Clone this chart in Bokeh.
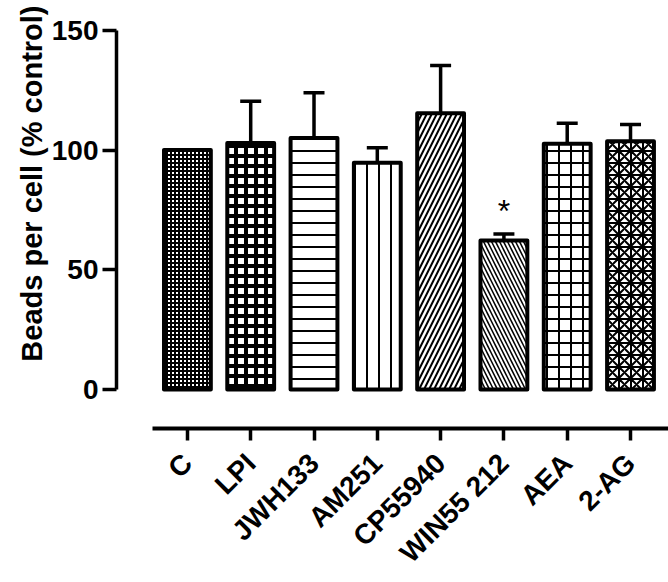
import math
from bokeh.plotting import figure
from bokeh.models import (ColumnDataSource, Range1d, FixedTicker, Whisker, TeeHead, Title)
from bokeh.core.properties import value
from bokeh.embed import file_html
from bokeh.resources import INLINE

# ---- data ----
categories = ["C", "LPI", "JWH133", "AM251", "CP55940", "WIN55 212", "AEA", "2-AG"]
means = [100, 103, 105, 94.7, 115.4, 62.2, 102.6, 103.7]
sems = [0, 17.4, 19, 6.3, 19.9, 2.8, 8.6, 7.0]
significance = ["", "", "", "", "", "*", "", ""]
y_ticks = [0, 50, 100, 150]
y_title = "Beads per cell (% control)"

# ---- styles ----
patterns = ["cross", "cross", "horizontal_line", "vertical_line",
            "right_diagonal_line", "left_diagonal_line", "cross", "criss_cross"]
scales = [4, 10, 12, 12, 10, 8, 12, 12]
weights = [2, 4, 2, 2, 2, 1.5, 2, 2]

FONT = "Liberation Sans"

xs = list(range(len(categories)))
src = ColumnDataSource(dict(x=xs, top=means, pat=patterns, sc=scales, wt=weights))

err_idx = [i for i, e in enumerate(sems) if e > 0]
err_src = ColumnDataSource(dict(
    x=[xs[i] for i in err_idx],
    mean=[means[i] for i in err_idx],
    upper=[means[i] + sems[i] for i in err_idx],
))

sig_idx = [i for i, s in enumerate(significance) if s]
sig_src = ColumnDataSource(dict(
    x=[xs[i] for i in sig_idx],
    y=[means[i] + sems[i] + 9.5 for i in sig_idx],
    t=[significance[i] for i in sig_idx],
))

p = figure(width=668, height=582,
           x_range=Range1d(-1.12, 7.6), y_range=Range1d(-16.3, 153.3),
           output_backend="svg", toolbar_location=None,
           min_border_left=116, min_border_right=0, min_border_top=22,
           min_border_bottom=154)

p.vbar(x="x", top="top", bottom=0, width=0.74, source=src,
       fill_color="white", line_color="black", line_width=4, line_join="round",
       hatch_pattern="pat", hatch_scale="sc", hatch_weight="wt",
       hatch_color="black")

p.add_layout(Whisker(base="x", lower="mean", upper="upper", source=err_src,
                     line_width=3.5, line_color="black", lower_head=None,
                     upper_head=TeeHead(size=21, line_width=3.5, line_color="black"),
                     level="underlay"))

p.text(x="x", y="y", text="t", source=sig_src, text_font=value(FONT),
       text_font_size="32px", text_align="center", text_baseline="middle",
       text_color="black")

p.add_layout(Title(text=y_title, align="right", offset=-17, standoff=2,
                   text_font=FONT, text_font_style="bold", text_font_size="29px",
                   text_color="black"), "left")

p.xgrid.visible = False
p.ygrid.visible = False
p.outline_line_color = None
p.background_fill_color = "white"
p.border_fill_color = "white"

# y axis
ya = p.yaxis[0]
ya.ticker = FixedTicker(ticks=y_ticks)
ya.bounds = (0, 150)
ya.axis_line_width = 3.5
ya.axis_line_color = "black"
ya.major_tick_line_width = 3.5
ya.major_tick_line_color = "black"
ya.major_tick_out = 14
ya.major_tick_in = 0
ya.minor_tick_line_color = None
ya.major_label_text_font = FONT
ya.major_label_text_font_style = "bold"
ya.major_label_text_font_size = "28px"
ya.major_label_text_color = "black"
ya.major_label_standoff = 4

# x axis
xa = p.xaxis[0]
xa.ticker = FixedTicker(ticks=xs)
xa.major_label_overrides = {i: c for i, c in zip(xs, categories)}
xa.bounds = (-0.553, 7.6)
xa.axis_line_width = 4
xa.axis_line_color = "black"
xa.major_tick_line_width = 3.5
xa.major_tick_line_color = "black"
xa.major_tick_out = 12
xa.major_tick_in = 0
xa.minor_tick_line_color = None
xa.major_label_text_font = FONT
xa.major_label_text_font_style = "bold"
xa.major_label_text_font_size = "28px"
xa.major_label_text_color = "black"
xa.major_label_orientation = math.pi / 4
xa.major_label_standoff = 18

open("out.html", "w").write(file_html(p, INLINE))
